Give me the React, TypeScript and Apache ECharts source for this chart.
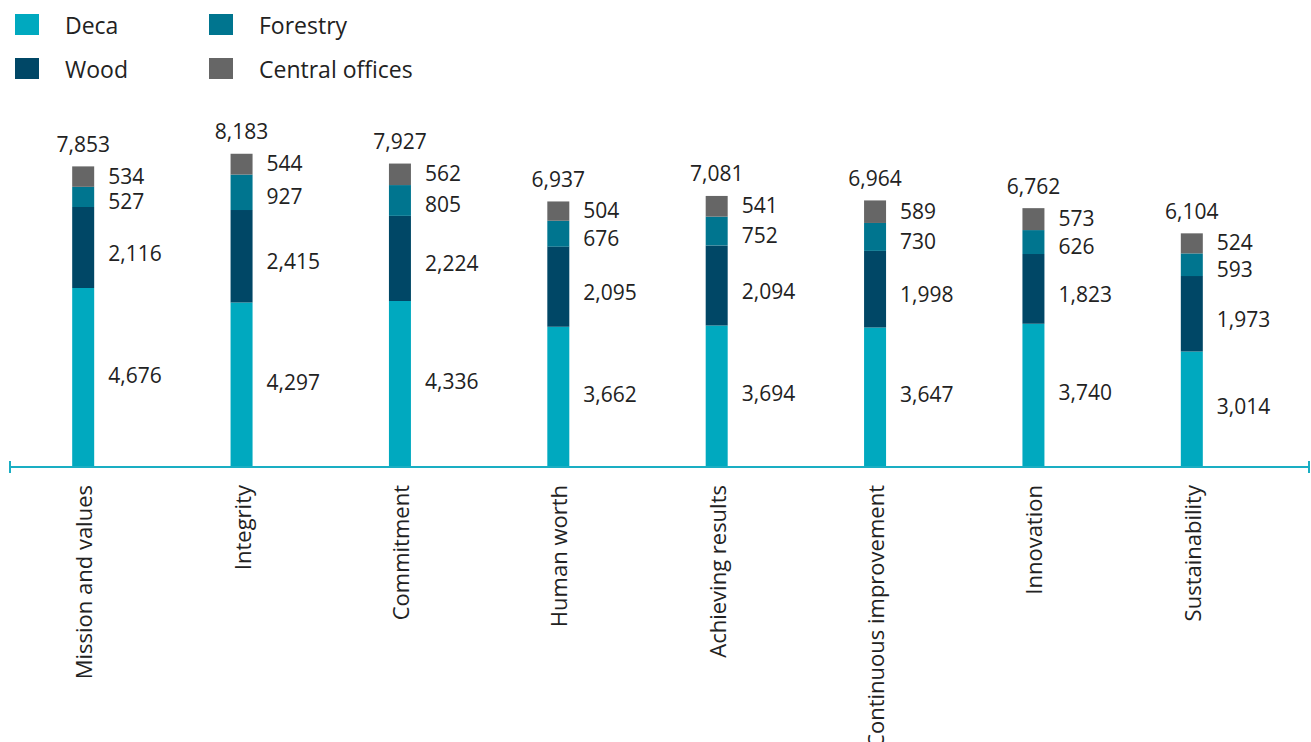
import React, { useEffect, useRef } from "react";
import * as echarts from "echarts";

const categories = [
  "Mission and values",
  "Integrity",
  "Commitment",
  "Human worth",
  "Achieving results",
  "Continuous improvement",
  "Innovation",
  "Sustainability",
];
const deca = [4676, 4297, 4336, 3662, 3694, 3647, 3740, 3014];
const wood = [2116, 2415, 2224, 2095, 2094, 1998, 1823, 1973];
const forestry = [527, 927, 805, 676, 752, 730, 626, 593];
const centralOffices = [534, 544, 562, 504, 541, 589, 573, 524];
const totals = [7853, 8183, 7927, 6937, 7081, 6964, 6762, 6104];

const FONT = "Open Sans";
const fmt = (v: number) => v.toLocaleString("en-US");

export default function App() {
  const ref = useRef<HTMLDivElement>(null);
  useEffect(() => {
    const chart = echarts.init(ref.current!, null, { renderer: "svg" });
    const segLabel = (dy: number) => ({
      show: true,
      position: "right",
      distance: 14,
      offset: [0, dy],
      color: "#222",
      fontFamily: FONT,
      fontSize: 21,
      formatter: (p: any) => fmt(p.value),
    });
    const mk = (name: string, data: number[], color: string, dy: number) => ({
      name,
      type: "bar",
      stack: "s",
      barWidth: 22,
      barGap: "-100%",
      data,
      itemStyle: { color },
      label: segLabel(dy),
    });
    const legendBase = {
      orient: "vertical",
      top: 8,
      itemWidth: 24,
      itemHeight: 21,
      itemGap: 21,
      icon: "rect",
      textStyle: { fontFamily: FONT, fontSize: 23, color: "#222", padding: [0, 0, 0, 21] },
      selectedMode: false,
    };
    chart.setOption({
      animation: false,
      legend: [
        { ...legendBase, data: ["Deca", "Wood"], left: 10 },
        { ...legendBase, data: ["Forestry", "Central offices"], left: 204 },
      ],
      grid: {
        left: 4,
        right: 40,
        top: 84.2,
        bottom: 275,
        containLabel: false,
        outerBoundsMode: "none",
      },
      xAxis: {
        type: "category",
        data: categories,
        axisLine: { show: false },
        axisTick: { show: false },
        axisLabel: {
          rotate: 90,
          margin: 18,
          color: "#222",
          fontFamily: FONT,
          fontSize: 22,
          interval: 0,
        },
      },
      yAxis: {
        type: "value",
        min: 0,
        max: 10000,
        show: false,
        splitLine: { show: false },
      },
      graphic: [
        {
          type: "line",
          shape: { x1: 10, y1: 467, x2: 1309, y2: 467 },
          style: { stroke: "#1aaec3", lineWidth: 2 },
          z: 10,
        },
        {
          type: "line",
          shape: { x1: 10, y1: 461, x2: 10, y2: 473 },
          style: { stroke: "#1aaec3", lineWidth: 2 },
          z: 10,
        },
        {
          type: "line",
          shape: { x1: 1309, y1: 461, x2: 1309, y2: 473 },
          style: { stroke: "#1aaec3", lineWidth: 2 },
          z: 10,
        },
      ],
      series: [
        {
          name: "Total",
          type: "bar",
          barWidth: 22,
          barGap: "-100%",
          data: totals,
          itemStyle: { color: "rgba(0,0,0,0)" },
          z: 1,
          label: {
            show: true,
            position: "top",
            distance: 12,
            color: "#222",
            fontFamily: FONT,
            fontSize: 21,
            formatter: (p: any) => fmt(p.value),
          },
          tooltip: { show: false },
        },
        mk("Deca", deca, "#00a9bf", -3),
        mk("Wood", wood, "#004766", 5),
        mk("Forestry", forestry, "#00758f", 4),
        mk("Central offices", centralOffices, "#666666", -1),
      ],
    });
    return () => chart.dispose();
  }, []);
  return (
    <div
      ref={ref}
      style={{ position: "fixed", left: 0, top: 0, width: 1311, height: 742, background: "#fff" }}
    />
  );
}
